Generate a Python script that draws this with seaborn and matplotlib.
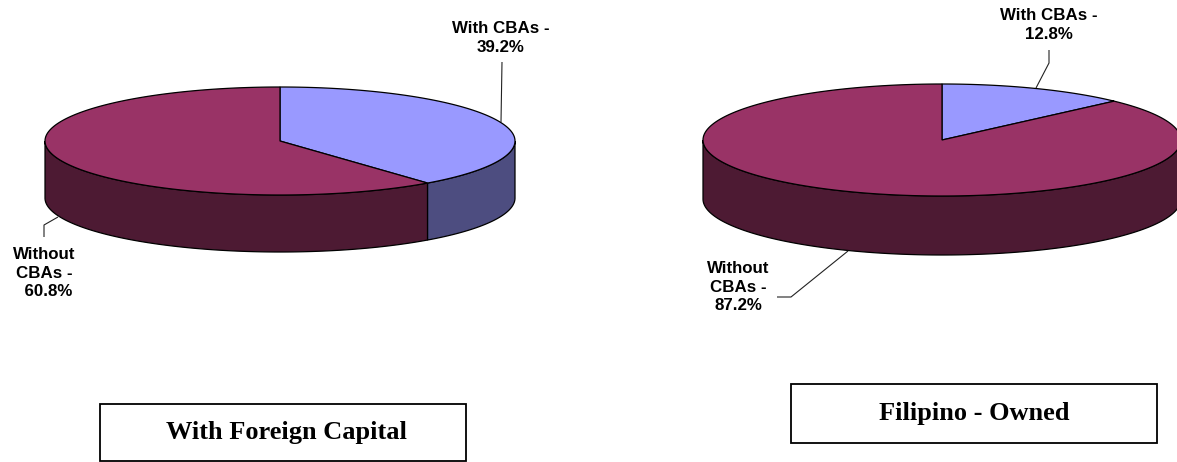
import numpy as np
import matplotlib
matplotlib.use("Agg")
import matplotlib.pyplot as plt
from matplotlib.patches import Polygon, Rectangle
import seaborn as sns

# shares in percent, clockwise from 12 o'clock
categories = ["With CBAs", "Without CBAs"]
foreign_shares = [39.2, 60.8]
filipino_shares = [12.8, 87.2]

foreign_labels = ["With CBAs -\n39.2%", "Without\nCBAs -\n  60.8%"]
filipino_labels = ["With CBAs -\n12.8%", "Without\nCBAs -\n87.2%"]
foreign_title = "With Foreign Capital"
filipino_title = "Filipino - Owned"

top_colors = ["#9999FF", "#993366"]
side_colors = ["#4D4D80", "#4D1A33"]


def arc(cx, cy, rx, ry, t0, t1, n=200):
    # t in degrees, clockwise from the top of the ellipse
    t = np.radians(np.linspace(t0, t1, n))
    return np.column_stack([cx + rx * np.sin(t), cy - ry * np.cos(t)])


def pie3d(ax, shares, cx, cy, rx, ry, depth):
    edges = np.concatenate([[0], np.cumsum(shares)]) * 3.6

    # side wall, only the front half of the ellipse shows
    for i in range(len(shares)):
        t0, t1 = max(edges[i], 90), min(edges[i + 1], 270)
        if t1 <= t0:
            continue
        upper = arc(cx, cy, rx, ry, t0, t1)
        lower = arc(cx, cy + depth, rx, ry, t1, t0)
        ax.add_patch(Polygon(np.vstack([upper, lower]), closed=True,
                             facecolor=side_colors[i], edgecolor="black", linewidth=0.9))

    # top face
    for i in range(len(shares)):
        pts = np.vstack([[cx, cy], arc(cx, cy, rx, ry, edges[i], edges[i + 1])])
        ax.add_patch(Polygon(pts, closed=True, facecolor=top_colors[i],
                             edgecolor="black", linewidth=0.9))


def leader(ax, xs, ys):
    ax.plot(xs, ys, color="#222222", linewidth=0.8, solid_capstyle="butt")


def label(ax, x, y, s):
    ax.text(x, y, s, ha="center", va="center", fontsize=12.2, fontweight="bold",
            family="Liberation Sans", color="black", linespacing=1.33)


def title_box(ax, x0, y0, x1, y1, s, text_x):
    ax.add_patch(Rectangle((x0, y0), x1 - x0, y1 - y0, facecolor="white",
                           edgecolor="black", linewidth=1.3))
    ax.text(text_x, (y0 + y1) / 2, s, ha="center", va="center",
            fontsize=19, fontweight="bold", family="Liberation Serif", color="black")


def main():
    sns.set_theme(style="white")
    fig, ax = plt.subplots(figsize=(11.77, 4.62), dpi=100)
    ax.set_position([0, 0, 1, 1])
    ax.set_xlim(0, 1177)
    ax.set_ylim(462, 0)
    ax.axis("off")

    pie3d(ax, foreign_shares, 280, 141, 235, 54, 57)
    pie3d(ax, filipino_shares, 942, 140, 239, 56, 59)

    leader(ax, [502, 501], [62, 122])
    leader(ax, [58, 44, 44], [217, 225, 237])
    leader(ax, [848, 791, 777], [251, 297, 297])
    leader(ax, [1049, 1049, 1036], [50, 63, 88])

    label(ax, 501, 38, foreign_labels[0])
    label(ax, 44, 273, foreign_labels[1])
    label(ax, 1049, 25, filipino_labels[0])
    label(ax, 738, 287, filipino_labels[1])

    title_box(ax, 100, 404, 466, 461, foreign_title, 286)
    title_box(ax, 791, 384, 1157, 443, filipino_title, 974)

    fig.savefig("out.png", dpi=100, facecolor="white")


if __name__ == "__main__":
    main()
